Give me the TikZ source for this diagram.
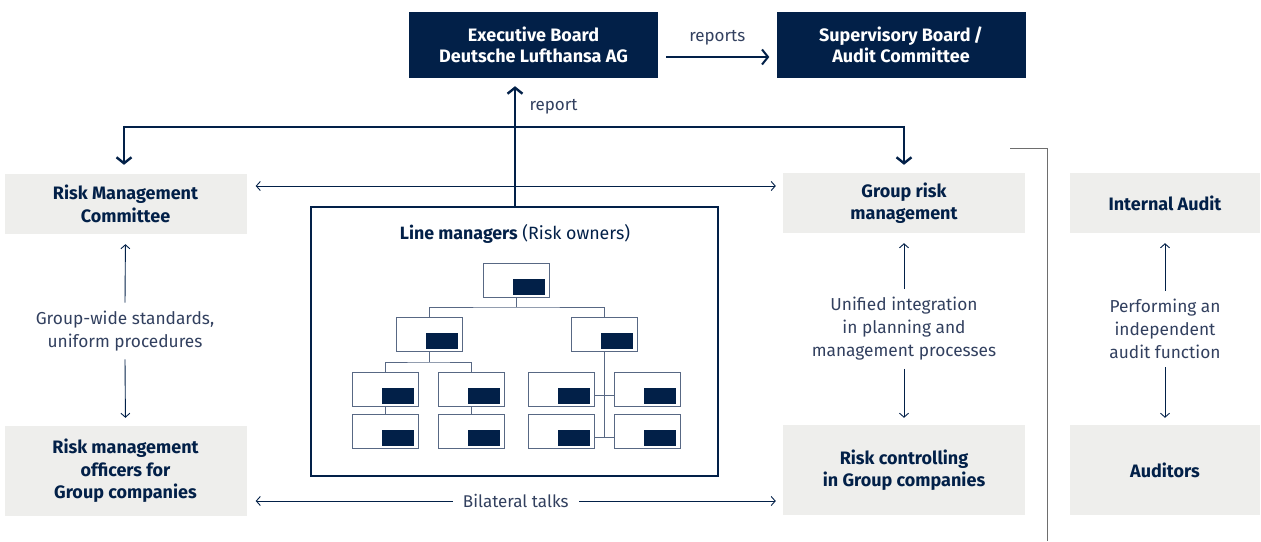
\documentclass[tikz,border=0pt]{standalone}
\usepackage{fontspec}
\setmainfont{Fira Sans}
\usetikzlibrary{arrows.meta}
\definecolor{navy}{RGB}{2,32,72}
\definecolor{boxgray}{RGB}{238,238,236}
\definecolor{txt}{RGB}{50,64,95}
\definecolor{orgline}{RGB}{88,104,132}
\definecolor{brk}{RGB}{110,110,110}
\begin{document}
\begin{tikzpicture}[x=1pt,y=-1pt,
  dark/.style={fill=navy, text=white, font=\bfseries\fontsize{18}{21.5}\selectfont, align=center, inner sep=0pt, minimum width=249pt, minimum height=66pt},
  gbox/.style={fill=boxgray, text=navy, font=\bfseries\fontsize{18}{22.5}\selectfont, align=center, inner sep=0pt, minimum width=242pt},
  lbl/.style={text=txt, font=\fontsize{17.3}{23}\selectfont, align=center, inner xsep=0pt, inner ysep=8pt},
  thinarr/.style={draw=navy, line width=0.9pt, -{Straight Barb[length=4pt,width=9pt]}},
  dblarr/.style={draw=navy, line width=0.9pt, {Straight Barb[length=4pt,width=9pt]}-{Straight Barb[length=4pt,width=9pt]}},
  thickline/.style={draw=navy, line width=2.4pt},
  thickarr/.style={draw=navy, line width=2.4pt, -{Straight Barb[length=6pt,width=15pt]}},
  orgbox/.style={draw=orgline, line width=1pt, minimum width=66pt, minimum height=34pt, inner sep=0pt,
    path picture={\fill[navy] ([xshift=-36pt,yshift=2pt]path picture bounding box.south east) rectangle ([xshift=-4pt,yshift=18pt]path picture bounding box.south east);}},
  orgline/.style={draw=orgline, line width=1pt}
]
\useasboundingbox (0,0) rectangle (1261,541);

% top boards
\node[dark] (eb) at (533.5,45) {Executive Board\\Deutsche Lufthansa AG};
\node[dark] (sb) at (901,45) {Supervisory Board\,/\\Audit Committee};
\draw[thickarr, line width=2pt, shorten <=8pt, shorten >=7pt] ([yshift=-12pt]eb.east) -- node[above=8pt, text=txt, font=\fontsize{17}{18}\selectfont] {reports} ([yshift=-12pt]sb.west);

% gray boxes
\node[gbox, minimum height=60pt] (rmc) at (125.5,204) {Risk Management\\Committee};
\node[gbox, minimum height=90pt] (rmo) at (125.5,471) {Risk management\\officers for\\Group companies};
\node[gbox, minimum height=60pt] (grm) at (904,203) {Group risk\\management};
\node[gbox, minimum height=90pt] (rc) at (904,470) {Risk controlling\\in Group companies};
\node[gbox, minimum width=190pt, minimum height=60pt] (ia) at (1165,203) {Internal Audit};
\node[gbox, minimum width=190pt, minimum height=90pt] (au) at (1165,470) {Auditors};

% line managers box
\node[draw=navy, line width=1.2pt, minimum width=407pt, minimum height=269pt, inner sep=0pt] (lm) at (514.5,341.5) {};
\node[text=navy, font=\fontsize{17.8}{20}\selectfont] (lmt) at (515,234) {\textbf{Line managers} (Risk owners)};

% org chart
\node[orgbox] (o1) at (516,280) {};
\node[orgbox] (o2a) at (429,334) {};
\node[orgbox] (o2b) at (604,334) {};
\node[orgbox] (o3a) at (385,389) {};
\node[orgbox] (o3b) at (471,389) {};
\node[orgbox] (o3c) at (561,389) {};
\node[orgbox] (o3d) at (647,389) {};
\node[orgbox] (o4a) at (385,431) {};
\node[orgbox] (o4b) at (471,431) {};
\node[orgbox] (o4c) at (561,431) {};
\node[orgbox] (o4d) at (647,431) {};
\coordinate (tj) at (516,307);
\coordinate (lj) at (429,362);
\draw[orgline] (o1.south) -- (tj);
\draw[orgline] (o2a.north) |- (tj) -| (o2b.north);
\draw[orgline] (o2a.south) -- (lj);
\draw[orgline] (o3a.north) |- (lj) -| (o3b.north);
\draw[orgline] (o3a.south) -- (o4a.north);
\draw[orgline] (o3b.south) -- (o4b.north);
\coordinate (rj1) at ([yshift=-6pt]o3c.east);
\coordinate (rj2) at ([yshift=-6pt]o4c.east);
\draw[orgline] (o2b.south) -- (o2b.south |- rj2);
\draw[orgline] (rj1) -- (rj1 -| o3d.west);
\draw[orgline] (rj2) -- (rj2 -| o4d.west);

% report arrow and distribution line
\coordinate (hl) at (124,127);
\coordinate (hr) at (904,127);
\coordinate (rp) at (515,207);
\draw[thickarr, shorten >=8pt] (rp) -- node[right=10pt, text=txt, font=\fontsize{17}{18}\selectfont, pos=0.78] {report} (rp |- eb.south);
\draw[thickline] (hl) -- (hr);
\draw[thickarr, shorten >=9pt] ([yshift=1.2pt]hl) -- (hl |- rmc.north);
\draw[thickarr, shorten >=8pt] ([yshift=1.2pt]hr) -- (hr |- grm.north);

% horizontal double arrows
\draw[dblarr] ([xshift=9pt]rmc.east |- 0,186) -- ([xshift=-7pt]grm.west |- 0,186);
\draw[dblarr] ([xshift=9pt]rmo.east |- 0,501) -- node[fill=white, text=txt, font=\fontsize{17}{18}\selectfont, inner xsep=10pt] {Bilateral talks} ([xshift=-7pt]rc.west |- 0,501);

% vertical labelled arrows
\node[lbl] (l1) at (125,331) {Group-wide standards,\\uniform procedures};
\draw[thinarr, shorten >=10pt] (l1.north) -- (rmc.south);
\draw[thinarr, shorten >=8pt] (l1.south) -- (rmo.north);
\node[lbl] (l2) at (904,329) {Unified integration\\in planning and\\management processes};
\draw[thinarr, shorten >=10pt] (l2.north) -- (grm.south);
\draw[thinarr, shorten >=7pt] (l2.south) -- (rc.north);
\node[lbl] (l3) at (1165,329) {Performing an\\independent\\audit function};
\draw[thinarr, shorten >=10pt] (l3.north) -- (ia.south);
\draw[thinarr, shorten >=7pt] (l3.south) -- (au.north);

% bracket
\coordinate (b1) at (1010,148);
\coordinate (b2) at (1047,148);
\coordinate (b3) at (1047,541);
\draw[brk, line width=1pt] (b1) -- (b2) -- (b3);
\end{tikzpicture}
\end{document}
